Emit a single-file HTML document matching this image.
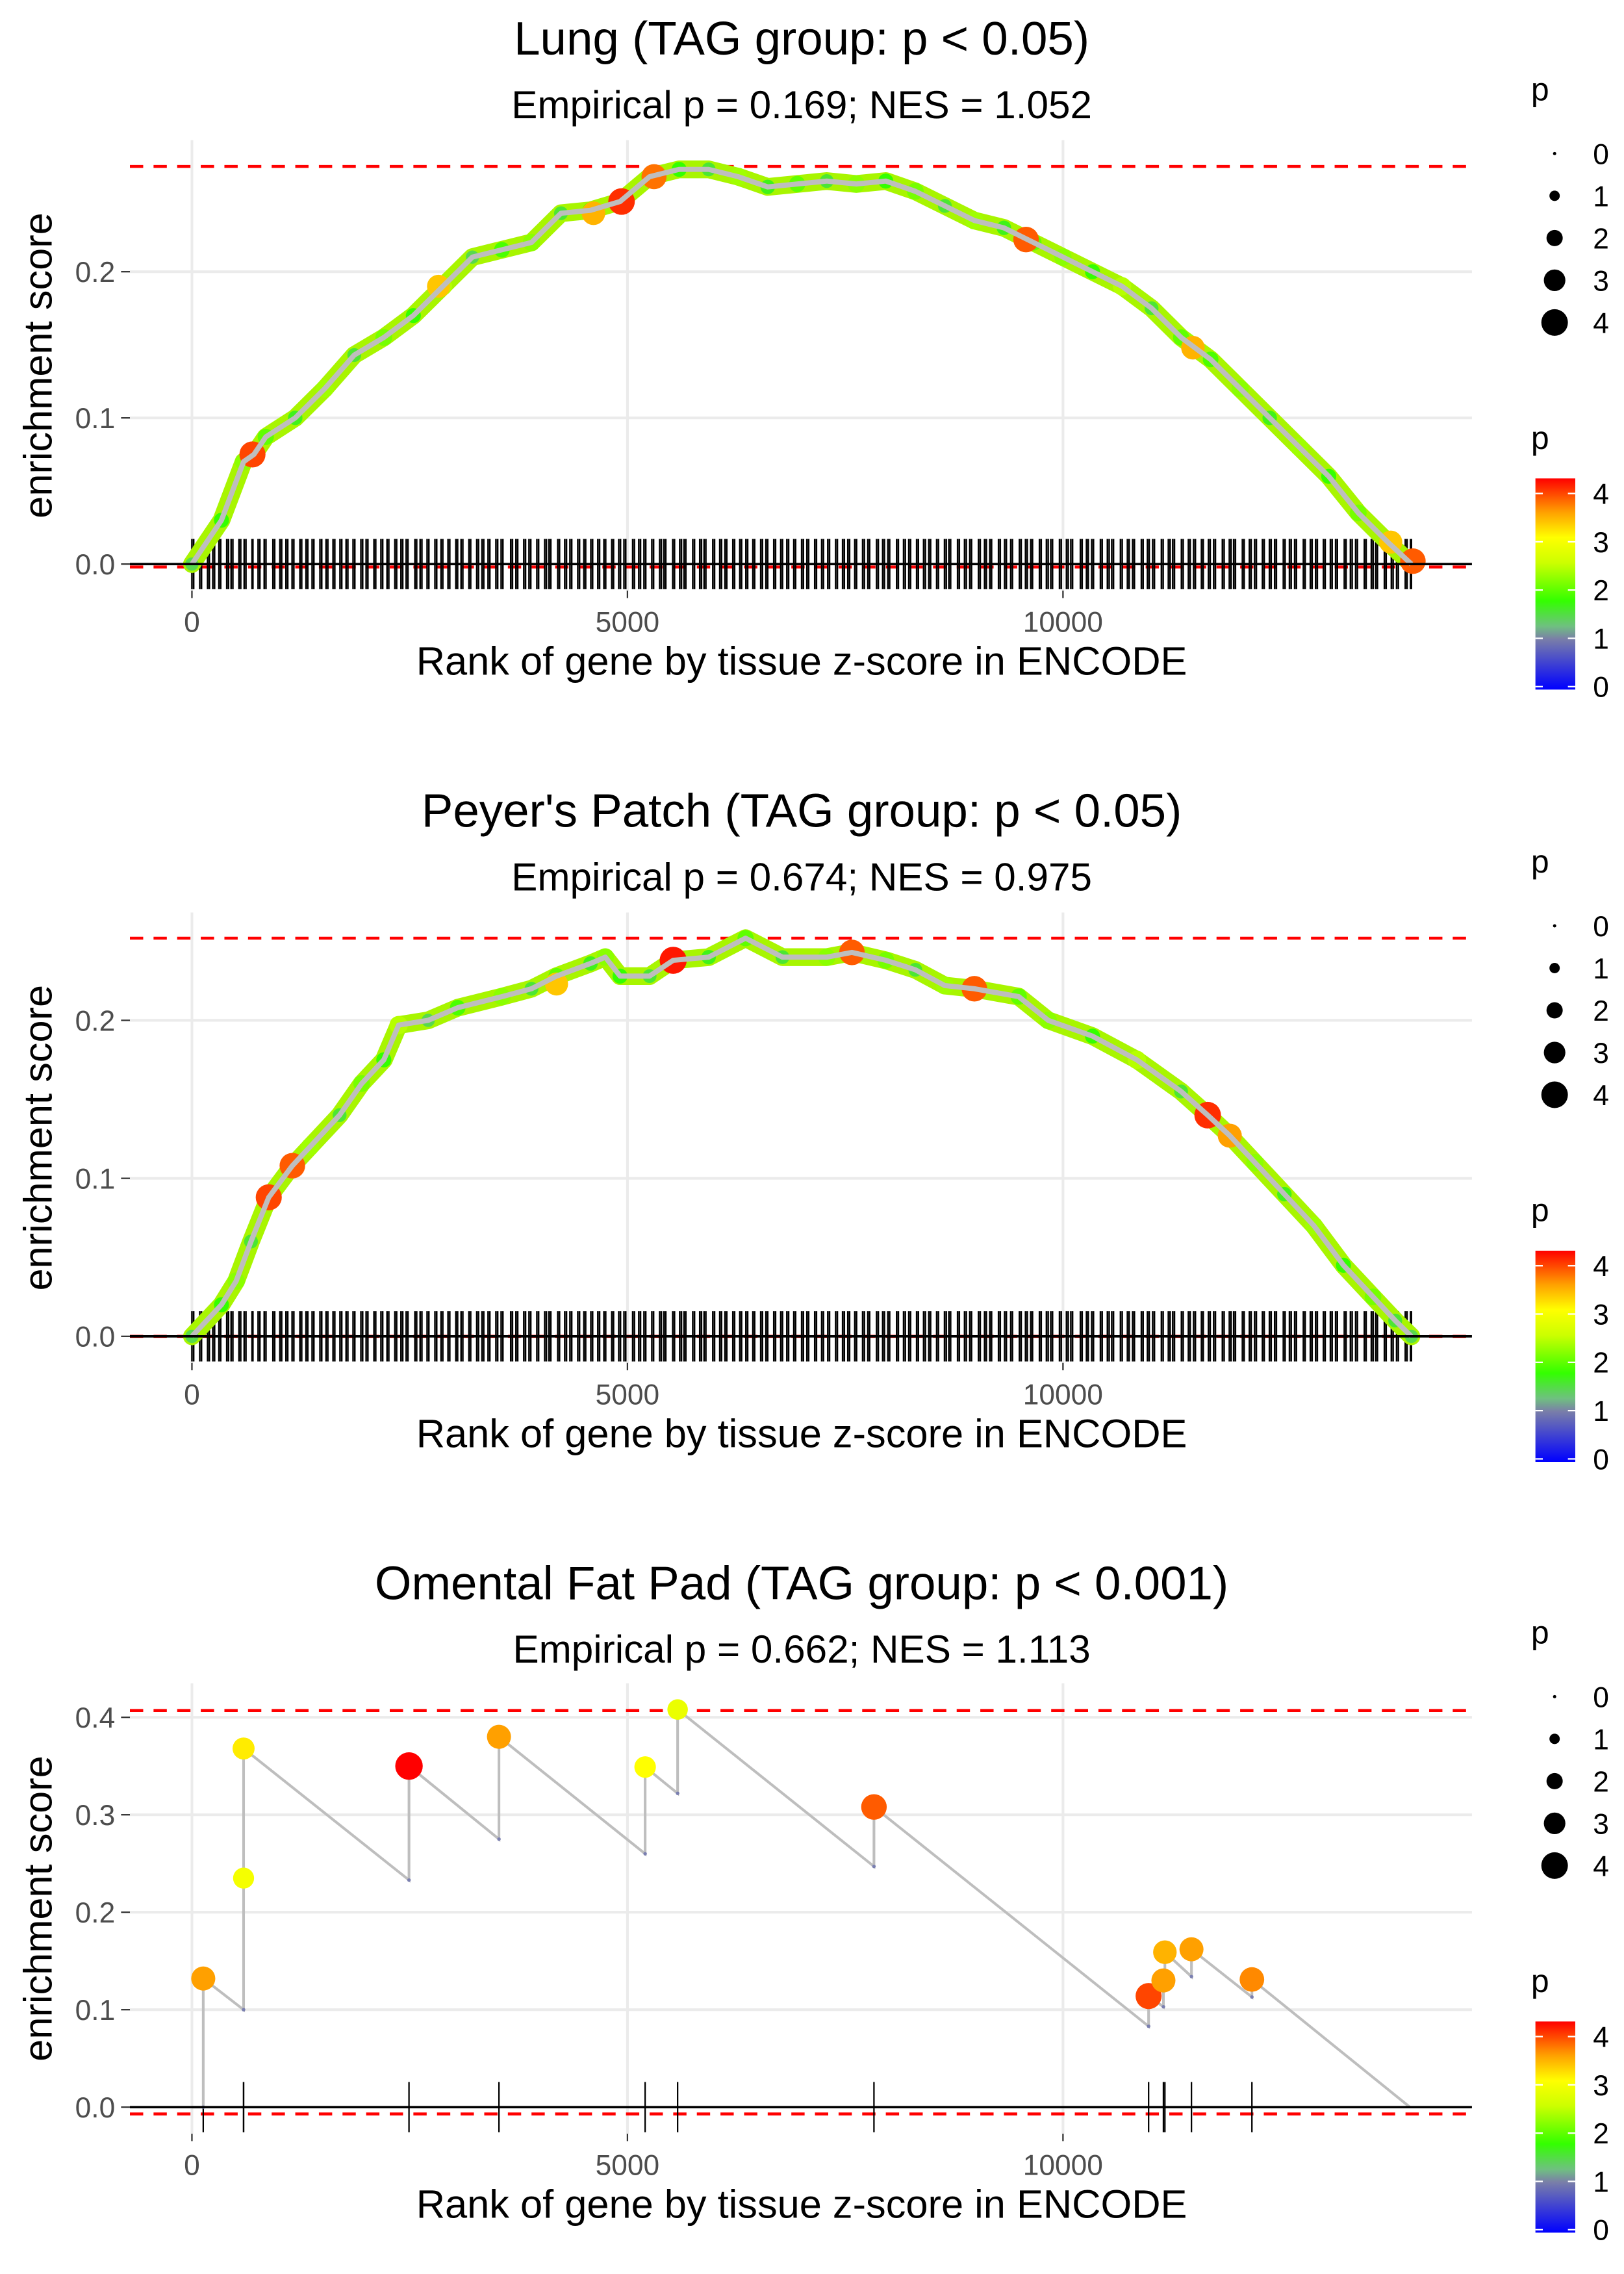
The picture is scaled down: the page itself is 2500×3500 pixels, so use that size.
<!DOCTYPE html>
<html><head><meta charset="utf-8">
<style>
html,body{margin:0;padding:0;background:#fff;}
svg{display:block;}
text{font-family:"Liberation Sans",Arial,sans-serif;}
</style></head>
<body>
<svg id="chart" width="2500" height="3500" viewBox="0 0 1100 1540" xmlns="http://www.w3.org/2000/svg">
<defs>
<linearGradient id="pgrad" x1="0" y1="1" x2="0" y2="0">
<stop offset="0" stop-color="#0000ff"/>
<stop offset="0.24" stop-color="#7a7fa8"/>
<stop offset="0.3" stop-color="#6fc080"/>
<stop offset="0.42" stop-color="#33ff00"/>
<stop offset="0.6" stop-color="#ccff00"/>
<stop offset="0.72" stop-color="#ffff00"/>
<stop offset="0.84" stop-color="#ffa000"/>
<stop offset="1" stop-color="#ff0000"/>
</linearGradient>
</defs>
</svg>
<script>
// ---------------- DATA ----------------
const xTicks = [0, 5000, 10000];
const xTickLabels = ["0", "5000", "10000"];

// Lung
const lungRank = [0,339,593,712,848,1186,1525,1864,2203,2542,2881,3220,3559,3898,4237,4576,4915,5254,5593,5932,6271,6610,6949,7288,7627,7966,8305,8644,8983,9322,9661,10000,10339,10678,11017,11356,11695,12034,12373,12712,13051,13390,13729,14000];
const lungES = [0,0.03,0.07,0.075,0.087,0.1,0.12,0.143,0.155,0.17,0.19,0.21,0.215,0.22,0.24,0.242,0.248,0.265,0.27,0.27,0.265,0.258,0.26,0.262,0.26,0.262,0.255,0.245,0.235,0.23,0.22,0.21,0.2,0.19,0.175,0.155,0.14,0.12,0.1,0.08,0.06,0.035,0.015,0];
const lungP = [1.5,1.8,2.2,1.6,2.0,1.7,2.3,1.6,2.1,1.8,2.4,1.5,1.9,2.2,1.6,2.0,1.7,2.2,1.8,1.6,2.3,1.7,2.0,1.6,2.2,1.8,2.1,1.6,2.3,1.7,2.0,2.2,1.8,2.4,1.6,2.0,1.9,2.2,1.7,2.3,1.8,2.1,1.6,1.5];
const lungBigRank = [695,2831,4610,4932,5305,9576,11492,13763,14017];
const lungBigES = [0.075,0.19,0.24,0.248,0.265,0.222,0.148,0.015,0.002];
const lungBigP = [3.9,3.3,3.4,4.0,3.7,3.8,3.4,3.3,3.8];
const lungMaxES = 0.272, lungMinES = -0.002;

// Peyer's Patch
const peyerRank = [0,339,508,678,882,1153,1356,1695,1949,2203,2373,2712,3051,3559,3898,4186,4576,4746,4915,5254,5525,5932,6356,6780,7288,7577,7966,8305,8644,8983,9492,9831,10339,10848,11356,11661,11915,12203,12542,12881,13220,13559,13814,14000];
const peyerES = [0,0.02,0.035,0.06,0.088,0.108,0.12,0.14,0.16,0.175,0.197,0.2,0.208,0.215,0.22,0.228,0.236,0.24,0.228,0.228,0.238,0.24,0.252,0.24,0.24,0.243,0.238,0.232,0.222,0.22,0.215,0.2,0.19,0.175,0.155,0.14,0.127,0.11,0.09,0.07,0.045,0.025,0.01,0];
const peyerP = [1.5,1.8,2.2,1.6,2.0,1.7,2.3,1.6,2.1,1.8,2.4,1.5,1.9,2.2,1.6,2.0,1.7,2.2,1.8,1.6,2.3,1.7,2.0,1.6,2.2,1.8,2.1,1.6,2.3,1.7,2.0,2.2,1.8,2.4,1.6,2.0,1.9,2.2,1.7,2.3,1.8,2.1,1.6,1.5];
const peyerBigRank = [882,1153,4186,5525,7577,8983,11661,11915];
const peyerBigES = [0.088,0.108,0.223,0.238,0.243,0.22,0.14,0.127];
const peyerBigP = [3.9,3.8,3.3,4.1,3.8,3.8,4.0,3.5];
const peyerMaxES = 0.252, peyerMinES = 0;

const hitRanks = [0,90,180,260,310,400,470,560,600,690,760,850,930,1010,1100,1150,1240,1330,1380,1470,1560,1620,1700,1790,1850,1940,2020,2090,2170,2260,2330,2400,2480,2560,2640,2700,2790,2880,2940,3030,3110,3180,3270,3350,3400,3490,3570,3660,3720,3810,3890,3960,4050,4120,4200,4280,4340,4430,4520,4580,4660,4750,4820,4900,4980,5060,5130,5210,5280,5370,5440,5520,5600,5670,5750,5830,5900,5980,6060,6140,6210,6290,6380,6440,6530,6610,6680,6760,6850,6910,7000,7080,7150,7230,7320,7390,7470,7550,7610,7700,7780,7860,7930,8010,8090,8170,8250,8320,8400,8480,8550,8640,8710,8790,8870,8950,9030,9100,9180,9260,9330,9420,9500,9570,9650,9730,9810,9880,9960,10040,10110,10200,10270,10350,10430,10510,10580,10660,10740,10820,10900,10970,11050,11130,11210,11280,11360,11440,11520,11590,11670,11750,11830,11910,11980,12060,12140,12220,12290,12370,12450,12530,12600,12680,12760,12840,12920,12990,13070,13150,13230,13300,13380,13460,13540,13610,13690,13770,13850,13930,13990];
const hitRanks2 = [20,110,200,240,330,420,450,540,620,700,780,830,950,1030,1080,1170,1260,1310,1400,1490,1540,1640,1720,1770,1870,1960,2000,2110,2190,2240,2350,2420,2460,2580,2620,2720,2810,2860,2960,3050,3090,3200,3290,3330,3420,3510,3550,3680,3740,3830,3870,3980,4070,4100,4220,4300,4360,4450,4500,4600,4680,4730,4840,4920,4960,5080,5150,5190,5300,5390,5420,5540,5620,5650,5770,5850,5880,6000,6080,6120,6230,6310,6360,6460,6550,6590,6700,6780,6830,6930,7020,7060,7170,7250,7300,7410,7490,7530,7630,7720,7760,7880,7950,7990,8110,8190,8230,8340,8420,8460,8570,8660,8690,8810,8890,8930,9050,9120,9160,9280,9350,9400,9520,9590,9630,9750,9830,9860,9980,10060,10090,10220,10290,10330,10450,10530,10560,10680,10760,10800,10920,10990,11030,11150,11230,11260,11380,11460,11500,11610,11690,11730,11850,11930,11960,12080,12160,12200,12310,12390,12430,12550,12620,12660,12780,12860,12900,13010,13090,13130,13250,13320,13360,13480,13560,13590,13710,13790,13830,13950,14000];

// Omental Fat Pad
const omRank = [130,593,593,2492,3525,5203,5576,7830,10983,11153,11170,11475,12169];
const omLow  = [0,0.1,0.235,0.233,0.275,0.26,0.322,0.247,0.083,0.103,0.13,0.134,0.113];
const omHigh = [0.132,0.235,0.368,0.35,0.38,0.349,0.408,0.308,0.114,0.13,0.159,0.162,0.131];
const omP    = [3.5,2.9,3.1,4.2,3.5,3.0,2.8,3.8,3.9,3.5,3.4,3.5,3.6];
const omEndRank = 13983;
const omMaxES = 0.407, omMinES = -0.007;

// ---------------- DRAW ----------------
const NS = "http://www.w3.org/2000/svg";
const svg = document.getElementById("chart");
function mk(tag, attrs, parent){ const e = document.createElementNS(NS, tag); for (const k in attrs) e.setAttribute(k, attrs[k]); (parent||svg).appendChild(e); return e; }
function pColor(p){
  const stops = [[0,[0,0,255]],[1,[122,127,168]],[1.3,[111,192,128]],[1.8,[51,255,0]],[2.5,[204,255,0]],[3.0,[255,255,0]],[3.5,[255,160,0]],[4.2,[255,0,0]]];
  if (p <= 0) return "rgb(0,0,255)";
  for (let i=1;i<stops.length;i++){ if (p <= stops[i][0]){ const a=stops[i-1], b=stops[i]; const t=(p-a[0])/(b[0]-a[0]); const c=a[1].map((v,j)=>Math.round(v+(b[1][j]-v)*t)); return "rgb("+c.join(",")+")"; } }
  return "rgb(255,0,0)";
}
function pRadius(p){
  const rs = [1.1,3.5,5.5,7.3,9.0];
  if (p <= 0) return rs[0];
  if (p >= 4) return rs[4] + (p-4)*1.6;
  const i = Math.floor(p), t = p - i;
  return rs[i] + (rs[i+1]-rs[i])*t;
}

function panel(cfg){
  const g = mk("g", {});
  
  
  const x = r => cfg.x0 + r * (cfg.x1 - cfg.x0) / 10000;
  const y = v => cfg.y0 - v * cfg.pxPer;
  const t = mk("text", {x:543, y:cfg.titleY, "font-size":32, "text-anchor":"middle"}, g); t.textContent = cfg.title;
  
  
  const st = mk("text", {x:543, y:cfg.titleY+43, "font-size":26.5, "text-anchor":"middle"}, g); st.textContent = cfg.subtitle;
  
  
  const L = 88, R = 997;
  cfg.yTicks.forEach((v,i) => {
    const gl = mk("line", {x1:L, x2:R, y1:y(v), y2:y(v), stroke:"#ebebeb", "stroke-width":1.8}, g);
    
    
    const tl = mk("text", {x:78, y:y(v)+7, "font-size":19.5, fill:"#4d4d4d", "text-anchor":"end"}, g); tl.textContent = cfg.yTickLabels[i];
    
    
    mk("line", {x1:82, x2:88, y1:y(v), y2:y(v), stroke:"#333", "stroke-width":1}, g);
  });
  xTicks.forEach((r,i) => {
    const gl = mk("line", {x1:x(r), x2:x(r), y1:cfg.top, y2:cfg.bottom, stroke:"#ebebeb", "stroke-width":1.8}, g);
    
    
    mk("line", {x1:x(r), x2:x(r), y1:cfg.bottom, y2:cfg.bottom+5, stroke:"#333", "stroke-width":1}, g);
    const tl = mk("text", {x:x(r), y:cfg.bottom+28, "font-size":19.5, fill:"#4d4d4d", "text-anchor":"middle"}, g); tl.textContent = xTickLabels[i];
    
    
  });
  const xt = mk("text", {x:543, y:cfg.bottom+57, "font-size":27, "text-anchor":"middle"}, g); xt.textContent = "Rank of gene by tissue z-score in ENCODE";
  
  
  const ymid = (cfg.top+cfg.bottom)/2;
  const yt = mk("text", {x:0, y:0, "font-size":27, "text-anchor":"middle", transform:"translate(35,"+ymid+") rotate(-90)"}, g); yt.textContent = "enrichment score";
  
  
  [cfg.maxES, cfg.minES].forEach(v => {
    const d = mk("line", {x1:L, x2:R, y1:y(v), y2:y(v), stroke:"#ff0000", "stroke-width":2, "stroke-dasharray":"9,7"}, g);
    
    
  });
  cfg.draw(g, x, y);
  const z = mk("line", {x1:L, x2:R, y1:y(0), y2:y(0), stroke:"#000", "stroke-width":1.6}, g);
  
  
  cfg.drawTop && cfg.drawTop(g, x, y);
  const lx = 1045;
  const sl = mk("text", {x:lx-8, y:cfg.legY, "font-size":22}, g); sl.textContent = "p";
  
  
  [0,1,2,3,4].forEach((p,i) => {
    const cy = cfg.legY + 36 + i*28.6;
    const c = mk("circle", {cx:lx+8, cy:cy, r:pRadius(p), fill:"#000"}, g);
    
    
    const tl = mk("text", {x:lx+34, y:cy+7, "font-size":19.5}, g); tl.textContent = String(p);
    
    
  });
  const cl = mk("text", {x:lx-8, y:cfg.legY+236, "font-size":22}, g); cl.textContent = "p";
  
  
  const by = cfg.legY + 256;
  const bar = mk("rect", {x:lx-5, y:by, width:27, height:143, fill:"url(#pgrad)"}, g);
  
  
  [0,1,2,3,4].forEach(p => {
    const yy = by + 141 - p*32.7;
    mk("line", {x1:lx-5, x2:lx, y1:yy, y2:yy, stroke:"#fff", "stroke-width":1}, g);
    mk("line", {x1:lx+17, x2:lx+22, y1:yy, y2:yy, stroke:"#fff", "stroke-width":1}, g);
    const tl = mk("text", {x:lx+34, y:yy+7, "font-size":19.5}, g); tl.textContent = String(p);
    
    
  });
}

function drawCurve(ranks, es, ps, bigR, bigE, bigP, hitsA, hitsB, hitH){
  return function(g, x, y){
    hitsA.concat(hitsB).forEach(r => {
      const l = mk("line", {x1:x(r), x2:x(r), y1:y(0)-hitH, y2:y(0)+hitH, stroke:"#000", "stroke-width":1.1}, g);
      
      
    });
    const pts = ranks.map((r,i) => x(r)+","+y(es[i])).join(" ");
    const band = mk("polyline", {points:pts, fill:"none", stroke:"#a8f500", "stroke-width":12, "stroke-linejoin":"round", "stroke-linecap":"round"}, g);
    
    
    ranks.forEach((r,i) => {
      const c = mk("circle", {cx:x(r), cy:y(es[i]), r:pRadius(ps[i]), fill:pColor(ps[i])}, g);
      
      
    });
    bigR.forEach((r,i) => {
      const c = mk("circle", {cx:x(r), cy:y(bigE[i]), r:pRadius(bigP[i]), fill:pColor(bigP[i])}, g);
      
      
    });
    const line = mk("polyline", {points:pts, fill:"none", stroke:"#bebebe", "stroke-width":3.5, "stroke-linejoin":"round"}, g);
    
    
  };
}

panel({name:"lung", title:"Lung (TAG group: p < 0.05)", subtitle:"Empirical p = 0.169; NES = 1.052",
  titleY:37, x0:130, x1:720, y0:382, pxPer:990, top:95, bottom:400, legY:68,
  yTicks:[0,0.1,0.2], yTickLabels:["0.0","0.1","0.2"], maxES:lungMaxES, minES:lungMinES,
  draw:drawCurve(lungRank, lungES, lungP, lungBigRank, lungBigES, lungBigP, hitRanks, hitRanks2, 17)});

panel({name:"peyers-patch", title:"Peyer's Patch (TAG group: p < 0.05)", subtitle:"Empirical p = 0.674; NES = 0.975",
  titleY:560, x0:130, x1:720, y0:905, pxPer:1070, top:618, bottom:923, legY:591,
  yTicks:[0,0.1,0.2], yTickLabels:["0.0","0.1","0.2"], maxES:peyerMaxES, minES:peyerMinES,
  draw:drawCurve(peyerRank, peyerES, peyerP, peyerBigRank, peyerBigES, peyerBigP, hitRanks2, hitRanks, 17)});

panel({name:"omental-fat-pad", title:"Omental Fat Pad (TAG group: p < 0.001)", subtitle:"Empirical p = 0.662; NES = 1.113",
  titleY:1083, x0:130, x1:720, y0:1427, pxPer:660, top:1140, bottom:1445, legY:1113,
  yTicks:[0,0.1,0.2,0.3,0.4], yTickLabels:["0.0","0.1","0.2","0.3","0.4"], maxES:omMaxES, minES:omMinES,
  draw:function(g, x, y){
    omRank.forEach(r => {
      const l = mk("line", {x1:x(r), x2:x(r), y1:y(0)-17, y2:y(0)+17, stroke:"#000", "stroke-width":1}, g);
      
      
    });
    let pts = [x(0)+","+y(0)];
    omRank.forEach((r,i) => { pts.push(x(r)+","+y(omLow[i])); pts.push(x(r)+","+y(omHigh[i])); });
    pts.push(x(omEndRank)+","+y(0));
    const line = mk("polyline", {points:pts.join(" "), fill:"none", stroke:"#bebebe", "stroke-width":1.8}, g);
    
    
    omRank.forEach((r,i) => {
      const c = mk("circle", {cx:x(r), cy:y(omLow[i]), r:1.2, fill:"#7a7fb0"}, g);
      
      
    });
  },
  drawTop:function(g, x, y){
    omRank.forEach((r,i) => {
      const c = mk("circle", {cx:x(r), cy:y(omHigh[i]), r:pRadius(omP[i]), fill:pColor(omP[i])}, g);
      
      
    });
  }});
</script>
</body></html>
